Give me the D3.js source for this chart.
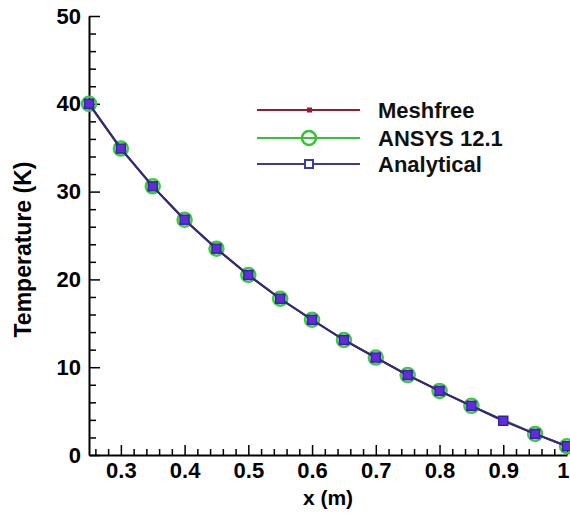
<!DOCTYPE html>
<html>
<head>
<meta charset="utf-8">
<script src="https://cdn.jsdelivr.net/npm/d3@7"></script>
<style>
  body { margin: 0; background: #fff; }
  text { font-family: "Liberation Sans", Arial, sans-serif; font-weight: bold; }
</style>
</head>
<body>
<div id="chart"></div>
<script>
/* DATA */
const xValues = [0.25, 0.3, 0.35, 0.4, 0.45, 0.5, 0.55, 0.6, 0.65, 0.7, 0.75, 0.8, 0.85, 0.9, 0.95, 1.0];
const meshfree = [40, 34.9, 30.6, 26.8, 23.5, 20.5, 17.8, 15.4, 13.1, 11.1, 9.1, 7.3, 5.6, 3.9, 2.4, 1.0];
const analytical = [40, 34.9, 30.6, 26.8, 23.5, 20.5, 17.8, 15.4, 13.1, 11.1, 9.1, 7.3, 5.6, 3.9, 2.4, 1.0];
const ansysX = [0.25, 0.3, 0.35, 0.4, 0.45, 0.5, 0.55, 0.6, 0.65, 0.7, 0.75, 0.8, 0.85, 0.95, 1.0];
const ansys = [40, 34.9, 30.6, 26.8, 23.5, 20.5, 17.8, 15.4, 13.1, 11.1, 9.1, 7.3, 5.6, 2.4, 1.0];
const xTicks = [0.3, 0.4, 0.5, 0.6, 0.7, 0.8, 0.9, 1.0];
const yTicks = [0, 10, 20, 30, 40, 50];
const legendLabels = ["Meshfree", "ANSYS 12.1", "Analytical"];

/* CONSTANTS */
const width = 570,
  height = 515,
  margin = { top: 16, bottom: 60, left: 89, right: 3 };

const svg = d3.select("#chart")
  .append("svg")
  .attr("width", width)
  .attr("height", height);

const xScale = d3.scaleLinear()
  .domain([0.25, 1.0])
  .range([margin.left, width - margin.right]);

const yScale = d3.scaleLinear()
  .domain([0, 50])
  .range([height - margin.bottom, margin.top]);

// minor ticks every 0.02 / every 2 K
const xMinor = d3.range(0.26, 1.0, 0.02).filter(v => Math.abs(v * 10 - Math.round(v * 10)) > 0.01);
const yMinor = d3.range(2, 50, 2).filter(v => v % 10 !== 0);

// + AXES
svg.append("g")
  .attr("transform", `translate(0,${yScale(0)})`)
  .call(d3.axisBottom(xScale)
    .tickValues(xTicks)
    .tickSizeInner(-10)
    .tickSizeOuter(0)
    .tickPadding(7)
    .tickFormat(d => d === 1 ? "1" : d3.format(".1f")(d)))
  // last label sits on the window edge, keep it inside
  .call(g => g.selectAll(".tick text")
    .filter(d => d === 1)
    .attr("text-anchor", "end")
    .attr("x", 2));

svg.append("g")
  .attr("transform", `translate(0,${yScale(0)})`)
  .call(d3.axisBottom(xScale).tickValues(xMinor).tickSize(-6).tickFormat(""))
  .call(g => g.select(".domain").remove());

svg.append("g")
  .attr("transform", `translate(${margin.left},0)`)
  .call(d3.axisLeft(yScale)
    .tickValues(yTicks)
    .tickSizeInner(-11)
    .tickSizeOuter(0)
    .tickPadding(8));

svg.append("g")
  .attr("transform", `translate(${margin.left},0)`)
  .call(d3.axisLeft(yScale).tickValues(yMinor).tickSize(-7).tickFormat(""))
  .call(g => g.select(".domain").remove());

svg.selectAll(".domain").attr("stroke", "#000").attr("stroke-width", 2);
svg.selectAll(".tick line").attr("stroke", "#000").attr("stroke-width", 1.5);
svg.selectAll(".tick text")
  .attr("fill", "#000")
  .style("font-size", "22px")
  .style("font-family", "'Liberation Sans', Arial, sans-serif")
  .style("font-weight", "bold");

// axis titles
svg.append("text")
  .attr("x", (xScale(0.25) + xScale(1)) / 2)
  .attr("y", 505)
  .attr("text-anchor", "middle")
  .style("font-size", "21px")
  .text("x (m)");

svg.append("text")
  .attr("transform", `translate(31,${(yScale(0) + yScale(50)) / 2 + 14}) rotate(-90)`)
  .attr("text-anchor", "middle")
  .style("font-size", "23px")
  .text("Temperature (K)");

/* SERIES */
const line = d3.line()
  .x(d => xScale(d[0]))
  .y(d => yScale(d[1]));

const ansysPts = ansysX.map((x, i) => [x, ansys[i]]);
const meshPts = xValues.map((x, i) => [x, meshfree[i]]);
const anaPts = xValues.map((x, i) => [x, analytical[i]]);

svg.append("path")
  .datum(ansysPts)
  .attr("d", line)
  .attr("fill", "none")
  .attr("stroke", "#33c433")
  .attr("stroke-width", 2);

svg.selectAll(".ansys-dot")
  .data(ansysPts)
  .join("circle")
  .attr("class", "ansys-dot")
  .attr("cx", d => xScale(d[0]))
  .attr("cy", d => yScale(d[1]))
  .attr("r", 7)
  .attr("fill", "none")
  .attr("stroke", "#3ccc3c")
  .attr("stroke-width", 2.5);

svg.append("path")
  .datum(meshPts)
  .attr("d", line)
  .attr("fill", "none")
  .attr("stroke", "#a01530")
  .attr("stroke-width", 2);

svg.append("path")
  .datum(anaPts)
  .attr("d", line)
  .attr("fill", "none")
  .attr("stroke", "#2d2a85")
  .attr("stroke-width", 2);

svg.selectAll(".ana-dot")
  .data(anaPts)
  .join("rect")
  .attr("class", "ana-dot")
  .attr("x", d => xScale(d[0]) - 4.5)
  .attr("y", d => yScale(d[1]) - 4.5)
  .attr("width", 9)
  .attr("height", 9)
  .attr("fill", "#5a2fdc")
  .attr("stroke", "#3a22a8")
  .attr("stroke-width", 1.5);

svg.selectAll(".mesh-dot")
  .data(meshPts)
  .join("rect")
  .attr("class", "mesh-dot")
  .attr("x", d => xScale(d[0]) - 2)
  .attr("y", d => yScale(d[1]) - 2)
  .attr("width", 4)
  .attr("height", 4)
  .attr("fill", "#6a2cc8");

/* LEGEND */
const legendY = [110, 138, 164];
const legendColors = ["#a01530", "#33c433", "#3c3ca0"];
const legend = svg.append("g");

legendLabels.forEach((label, i) => {
  const y = legendY[i];
  legend.append("line")
    .attr("x1", 257).attr("x2", 360)
    .attr("y1", y).attr("y2", y)
    .attr("stroke", legendColors[i])
    .attr("stroke-width", 2);
  legend.append("text")
    .attr("x", 378)
    .attr("y", y + 8)
    .style("font-size", "22px")
    .attr("fill", "#111")
    .text(label);
});

legend.append("rect")
  .attr("x", 307).attr("y", legendY[0] - 2.5)
  .attr("width", 5).attr("height", 5)
  .attr("fill", "#a01530");

legend.append("circle")
  .attr("cx", 309).attr("cy", legendY[1])
  .attr("r", 7)
  .attr("fill", "none")
  .attr("stroke", "#33c433")
  .attr("stroke-width", 2.5);

legend.append("rect")
  .attr("x", 305).attr("y", legendY[2] - 4)
  .attr("width", 8).attr("height", 8)
  .attr("fill", "#fff")
  .attr("stroke", "#3c3ca0")
  .attr("stroke-width", 2);
</script>
</body>
</html>
